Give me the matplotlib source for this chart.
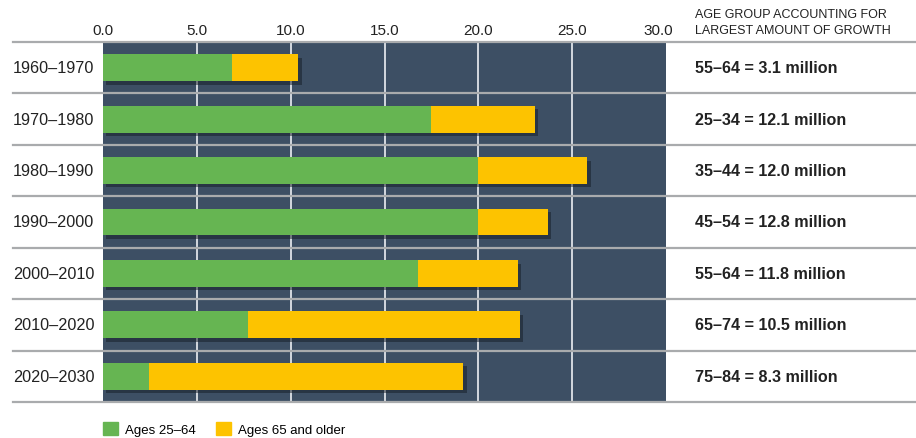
import matplotlib.pyplot as plt
import matplotlib.patheffects as pe
from matplotlib.patches import Patch
from matplotlib.transforms import blended_transform_factory, ScaledTranslation

# data (millions of people added per decade)
decades = ['1960–1970', '1970–1980', '1980–1990', '1990–2000',
           '2000–2010', '2010–2020', '2020–2030']
ages_25_64 = [6.9, 17.5, 20.0, 20.0, 16.8, 7.7, 2.45]
ages_65_up = [3.5, 5.5, 5.8, 3.7, 5.3, 14.5, 16.75]
largest_growth = ['55–64 = 3.1 million', '25–34 = 12.1 million',
                  '35–44 = 12.0 million', '45–54 = 12.8 million',
                  '55–64 = 11.8 million', '65–74 = 10.5 million',
                  '75–84 = 8.3 million']
x_ticks = [0, 5, 10, 15, 20, 25, 30]

plt.rcParams['font.family'] = ['Liberation Sans', 'DejaVu Sans']

green = '#66b552'
yellow = '#fdc300'
panel = '#3d4f64'
sep = '#a9abad'

W, H = 916, 439
fig = plt.figure(figsize=(W / 100, H / 100), dpi=100)
ax = fig.add_axes([103 / W, 1 - 403 / H, 563 / W, 360 / H])
ax.set_facecolor(panel)

ypos = list(range(len(decades)))
shadow = [pe.withSimplePatchShadow(offset=(2.5, -2.5), shadow_rgbFace='#151c26', alpha=0.5)]
b1 = ax.barh(ypos, ages_25_64, height=0.52, color=green, zorder=3)
b2 = ax.barh(ypos, ages_65_up, left=ages_25_64, height=0.52, color=yellow, zorder=4)
for p in list(b1) + list(b2):
    p.set_path_effects(shadow)

ax.set_xlim(0, 30)
ax.set_ylim(len(decades) - 0.5, -0.5)
for x in x_ticks[1:-1]:
    ax.axvline(x, color='#dfe3e8', lw=1.3, zorder=1)

# row separators run across the whole figure
x0 = (13 - 103) / 563
x1 = (W - 103) / 563
for y in [i - 0.5 for i in range(len(decades) + 1)]:
    ax.axhline(y, xmin=x0, xmax=x1, color=sep, lw=1.6, clip_on=False, zorder=2)

ax.xaxis.tick_top()
ax.set_xticks(x_ticks)
ax.set_xticklabels([f'{v:.1f}' for v in x_ticks], fontsize=11, color='#222222')
ax.tick_params(axis='x', length=0, pad=3.5)
ax.set_yticks([])
for s in ax.spines.values():
    s.set_visible(False)
# last label sits inside the panel edge
last = ax.get_xticklabels()[-1]
last.set_transform(last.get_transform() + ScaledTranslation(-8 / 100, 0, fig.dpi_scale_trans))

tr = blended_transform_factory(fig.transFigure, ax.transData)
for i, (lab, txt) in enumerate(zip(decades, largest_growth)):
    fig.text(13 / W, i, lab, transform=tr, ha='left', va='center', fontsize=11.7, color='#222222')
    fig.text(695 / W, i, txt, transform=tr, ha='left', va='center', fontsize=11.6,
             fontweight='bold', color='#222222')

fig.text(695 / W, 1 - 9 / H, 'AGE GROUP ACCOUNTING FOR\nLARGEST AMOUNT OF GROWTH',
         ha='left', va='top', fontsize=9, color='#222222', linespacing=1.5)

handles = [Patch(color=green, label='Ages 25–64'),
           Patch(color=yellow, label='Ages 65 and older')]
fig.legend(handles=handles, loc='upper left', bbox_to_anchor=(103 / W, 1 - 423 / H),
           ncol=2, frameon=False, fontsize=9.5, handlelength=1.14, handleheight=1.14,
           handletextpad=0.53, columnspacing=1.5, borderpad=0, borderaxespad=0)

fig.savefig('out.png', dpi=100)
